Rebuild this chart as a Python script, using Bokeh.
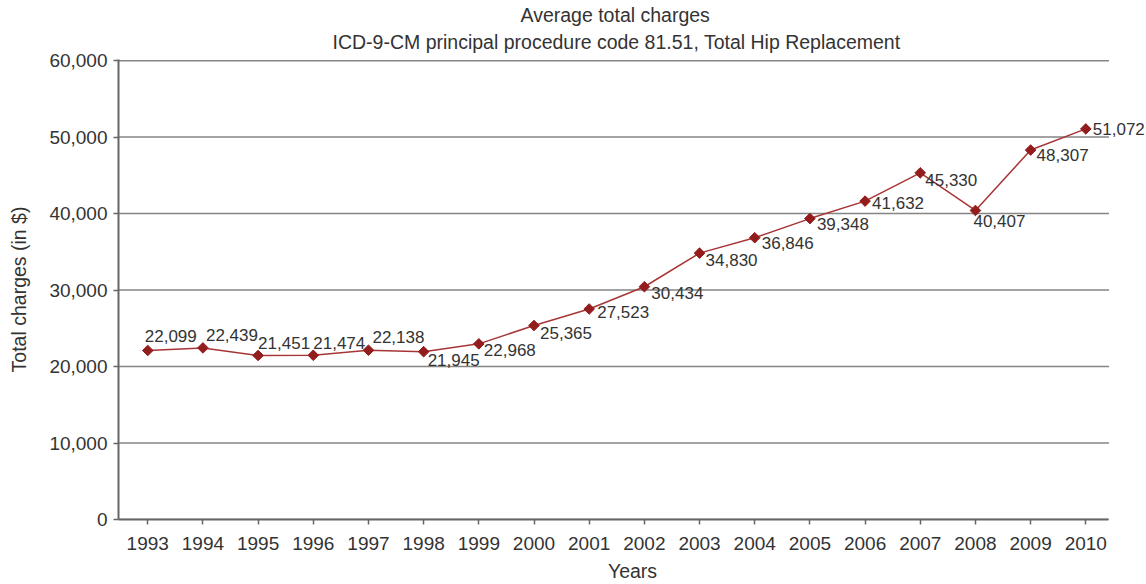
from math import pi

from bokeh.embed import file_html
from bokeh.models import ColumnDataSource, FixedTicker, Label, NumeralTickFormatter, Title
from bokeh.plotting import figure
from bokeh.resources import INLINE

# Average total charges per year (USD)
years = [1993, 1994, 1995, 1996, 1997, 1998, 1999, 2000, 2001,
         2002, 2003, 2004, 2005, 2006, 2007, 2008, 2009, 2010]
charges = [22099, 22439, 21451, 21474, 22138, 21945, 22968, 25365, 27523,
           30434, 34830, 36846, 39348, 41632, 45330, 40407, 48307, 51072]
y_ticks = [0, 10000, 20000, 30000, 40000, 50000, 60000]

# pixel offsets of each value label from its point
label_dx = [-3, 3, 0, 0, 4, 4, 5, 6, 8, 7, 6, 7, 7, 7, 5, -2, 6, 7]
label_dy = [14, 13, 12, 12, 13, -8, -6, -7, -3, -6, -7, -5, -5, -2, -7, -11, -5, 0]

FONT = "Liberation Sans"
TEXT = "#333333"

# horizontal extent of the plotted area, in years; the frame itself runs a
# little further right so the last value label has room
X_START, X_END = 1992.47, 2010.42

source = ColumnDataSource(dict(year=years, charge=charges))

p = figure(
    width=1146, height=584,
    x_range=(X_START, 2011.1), y_range=(0, 60150),
    output_backend="svg", toolbar_location=None,
    min_border_left=118, min_border_right=0,
    min_border_top=59, min_border_bottom=65,
)

# two title lines centred over the plotted area (left offsets from the frame)
p.add_layout(Title(text="ICD-9-CM principal procedure code 81.51, Total Hip Replacement",
                   align="left", offset=214, text_font=FONT, text_font_size="19.5px",
                   text_font_style="normal", text_color=TEXT, standoff=13), "above")
p.add_layout(Title(text="Average total charges",
                   align="left", offset=402, text_font=FONT, text_font_size="19.5px",
                   text_font_style="normal", text_color=TEXT, standoff=-6), "above")

p.outline_line_color = None
p.background_fill_color = "white"
p.border_fill_color = "white"

p.xgrid.grid_line_color = None
p.ygrid.grid_line_color = None
# horizontal gridlines at each y tick, across the plotted area only
p.segment(x0=X_START, x1=X_END, y0=y_ticks, y1=y_ticks,
          line_color="#858585", line_width=1.5)

p.xaxis.ticker = FixedTicker(ticks=years)
p.xaxis.bounds = (X_START, X_END)
p.yaxis.ticker = FixedTicker(ticks=y_ticks)
p.yaxis.formatter = NumeralTickFormatter(format="0,0")

for ax in (p.xaxis[0], p.yaxis[0]):
    ax.axis_line_color = "#666666"
    ax.axis_line_width = 2
    ax.major_tick_line_color = "#666666"
    ax.major_tick_line_width = 1.5
    ax.major_tick_in = 0
    ax.major_tick_out = 5
    ax.minor_tick_line_color = None
    ax.major_label_text_font = FONT
    ax.major_label_text_font_size = "19px"
    ax.major_label_text_color = TEXT
    ax.axis_label_text_font = FONT
    ax.axis_label_text_font_size = "19.5px"
    ax.axis_label_text_font_style = "normal"
    ax.axis_label_text_color = TEXT

p.xaxis.axis_label = "Years"
p.xaxis.major_label_standoff = 12
p.xaxis.axis_label_standoff = 7
p.yaxis.axis_label = "Total charges (in $)"
p.yaxis.major_label_standoff = 6
p.yaxis.axis_label_standoff = 16

p.line("year", "charge", source=source, line_color="#a83535", line_width=1.5)
p.scatter("year", "charge", source=source, marker="square", angle=pi / 4,
          size=7.5, fill_color="#931c1c", line_color="#931c1c")

# value labels next to each point
for yr, v, dx, dy in zip(years, charges, label_dx, label_dy):
    p.add_layout(Label(
        x=yr, y=v, x_offset=dx, y_offset=dy, text=f"{v:,}",
        text_font=FONT, text_font_size="17px", text_color=TEXT,
        text_align="left", text_baseline="middle",
    ))

open("out.html", "w").write(file_html(p, INLINE))
